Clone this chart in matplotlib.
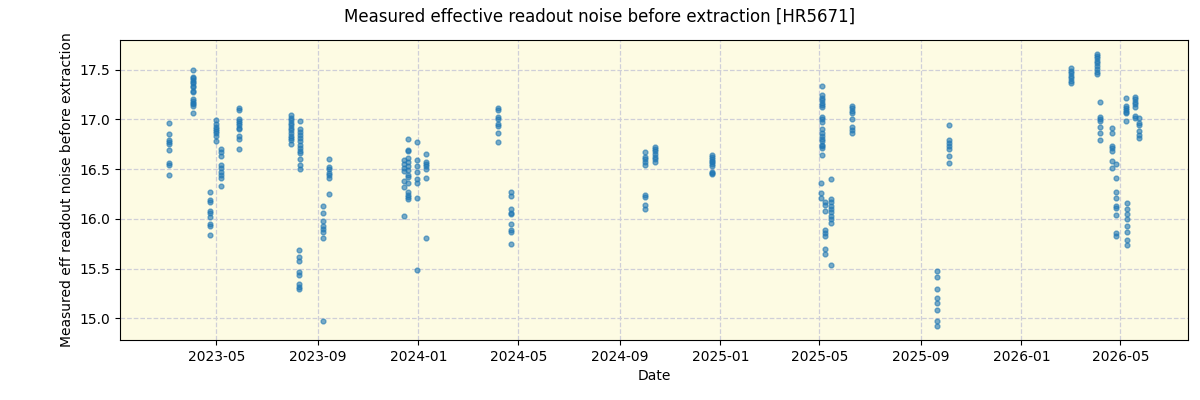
import matplotlib
matplotlib.use("Agg")
import matplotlib.pyplot as plt
import matplotlib.dates as mdates
import numpy as np
import pandas as pd

obs_dates = [
    "2023-03-04", "2023-04-03", "2023-04-23", "2023-04-30", "2023-05-06", "2023-05-28",
    "2023-07-31", "2023-08-10", "2023-08-09", "2023-09-07", "2023-09-14",
    "2023-12-15", "2023-12-19", "2023-12-30", "2024-01-10", "2024-04-06", "2024-04-22",
    "2024-10-02", "2024-10-14", "2024-12-22",
    "2025-05-04", "2025-05-03", "2025-05-08", "2025-05-15", "2025-06-09",
    "2025-09-20", "2025-10-05",
    "2026-03-02", "2026-04-02", "2026-04-06", "2026-04-21", "2026-04-25",
    "2026-05-08", "2026-05-09", "2026-05-18", "2026-05-24",
]
noise_values = [
    [16.96, 16.85, 16.79, 16.77, 16.75, 16.69, 16.56, 16.54, 16.44],
    [17.50, 17.43, 17.42, 17.40, 17.38, 17.37, 17.33, 17.32, 17.28, 17.27,
     17.20, 17.18, 17.16, 17.15, 17.13, 17.06],
    [16.27, 16.19, 16.17, 16.08, 16.06, 16.02, 15.95, 15.93, 15.84],
    [16.99, 16.95, 16.92, 16.90, 16.88, 16.86, 16.83, 16.78],
    [16.70, 16.67, 16.63, 16.54, 16.51, 16.47, 16.44, 16.41, 16.33],
    [17.11, 17.09, 17.00, 16.98, 16.96, 16.94, 16.91, 16.90, 16.83, 16.80, 16.70],
    [17.04, 17.01, 16.99, 16.96, 16.94, 16.91, 16.89, 16.86, 16.83, 16.81, 16.79, 16.75],
    [16.98, 16.90, 16.87, 16.84, 16.81, 16.78, 16.74, 16.71, 16.68, 16.66, 16.60,
     16.54, 16.50],
    [15.69, 15.62, 15.58, 15.47, 15.44, 15.35, 15.32, 15.30],
    [16.13, 16.06, 15.98, 15.93, 15.90, 15.87, 15.81, 14.97],
    [16.60, 16.52, 16.50, 16.46, 16.44, 16.41, 16.25],
    [16.59, 16.55, 16.51, 16.48, 16.38, 16.32, 16.03],
    [16.80, 16.69, 16.68, 16.61, 16.57, 16.53, 16.49, 16.44, 16.42, 16.36,
     16.27, 16.24, 16.22, 16.20],
    [16.77, 16.59, 16.53, 16.47, 16.40, 16.36, 16.21, 15.49],
    [16.65, 16.57, 16.55, 16.53, 16.50, 16.41, 15.81],
    [17.11, 17.09, 17.02, 17.00, 16.95, 16.93, 16.86, 16.77],
    [16.27, 16.23, 16.10, 16.06, 16.05, 15.95, 15.89, 15.87, 15.75],
    [16.67, 16.62, 16.60, 16.57, 16.54, 16.24, 16.22, 16.14, 16.10],
    [16.72, 16.70, 16.68, 16.65, 16.62, 16.60, 16.57],
    [16.64, 16.62, 16.60, 16.58, 16.57, 16.55, 16.53, 16.47, 16.46, 16.45],
    [17.33, 17.24, 17.21, 17.19, 17.16, 17.14, 17.12, 17.02, 17.00, 16.97, 16.90,
     16.86, 16.83, 16.80, 16.78, 16.74, 16.73, 16.71, 16.64],
    [16.36, 16.26, 16.21],
    [16.17, 16.14, 16.08, 15.89, 15.86, 15.83, 15.70, 15.65],
    [16.40, 16.20, 16.17, 16.13, 16.10, 16.07, 16.03, 16.00, 15.96, 15.54],
    [17.13, 17.11, 17.08, 17.06, 17.00, 16.92, 16.89, 16.86],
    [15.48, 15.42, 15.30, 15.20, 15.15, 15.08, 14.97, 14.92],
    [16.94, 16.79, 16.76, 16.73, 16.70, 16.63, 16.56],
    [17.52, 17.49, 17.47, 17.44, 17.42, 17.39, 17.36],
    [17.66, 17.64, 17.62, 17.59, 17.57, 17.54, 17.51, 17.48, 17.46],
    [17.17, 17.02, 17.00, 16.98, 16.92, 16.86, 16.79],
    [16.91, 16.86, 16.73, 16.71, 16.68, 16.58, 16.51],
    [16.55, 16.41, 16.27, 16.21, 16.13, 16.11, 16.04, 15.86, 15.83],
    [17.21, 17.13, 17.11, 17.09, 17.07, 17.06, 16.98],
    [16.16, 16.10, 16.05, 16.00, 15.93, 15.87, 15.79, 15.74],
    [17.22, 17.20, 17.17, 17.15, 17.12, 17.03, 17.01],
    [17.01, 16.96, 16.94, 16.88, 16.84, 16.81],
]

x = []
y = []
for d, vals in zip(obs_dates, noise_values):
    for v in vals:
        x.append(pd.Timestamp(d))
        y.append(v)

fig, ax = plt.subplots(figsize=(12, 4), dpi=100)
ax.set_facecolor("#fdfbe3")
ax.scatter(x, y, s=12, color="tab:blue", alpha=0.6, zorder=3)
ax.grid(True, linestyle="--", color="#cfcfd8", linewidth=0.9)
ax.xaxis.set_major_locator(mdates.MonthLocator(bymonth=[1, 5, 9]))
ax.xaxis.set_major_formatter(mdates.DateFormatter("%Y-%m"))
ax.set_xlabel("Date")
ax.set_ylabel("Measured eff readout noise before extraction")
fig.suptitle("Measured effective readout noise before extraction [HR5671]")
fig.subplots_adjust(left=0.1, right=0.99, top=0.9, bottom=0.15)
fig.savefig("out.png")
